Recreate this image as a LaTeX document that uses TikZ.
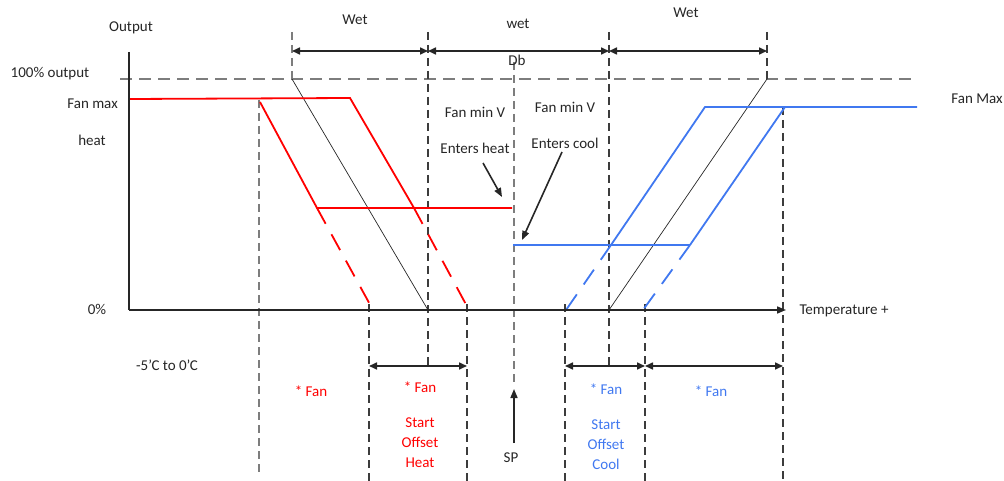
\documentclass[tikz,border=0pt]{standalone}
\usepackage{fontspec}
\setmainfont{Carlito}
\usetikzlibrary{arrows.meta}
\definecolor{myred}{RGB}{255,0,0}
\definecolor{myblue}{RGB}{64,120,240}
\definecolor{dgray}{RGB}{60,60,60}
\definecolor{lgray}{RGB}{125,125,125}
\definecolor{txt}{RGB}{38,38,38}
\begin{document}
\begin{tikzpicture}[x=1pt,y=-1pt,
  lbl/.style={font=\fontsize{15}{20}\selectfont, text=txt, inner sep=0pt, align=center},
  redtxt/.style={lbl, text=myred},
  bluetxt/.style={lbl, text=myblue},
  vdash/.style={draw=dgray, line width=1.1pt, dash pattern=on 8pt off 5pt},
  vdashl/.style={vdash, draw=lgray},
  hdash/.style={draw=lgray, line width=1.1pt, dash pattern=on 12pt off 7pt},
  redl/.style={draw=myred, line width=1.8pt},
  bluel/.style={draw=myblue, line width=1.8pt},
  redd/.style={redl, dash pattern=on 18pt off 12pt},
  blued/.style={bluel, dash pattern=on 18pt off 12pt},
  thinblk/.style={draw=txt, line width=0.7pt},
  axisl/.style={draw=txt, line width=1.6pt},
  dimarrow/.style={draw=txt, line width=1.6pt, {Triangle[length=8pt,width=7pt]}-{Triangle[length=8pt,width=7pt]}},
  pointer/.style={draw=txt, line width=1.6pt, -{Triangle[length=9pt,width=7pt]}},
]
\useasboundingbox (0,0) rectangle (1004,481);

% ---------- key coordinates ----------
\coordinate (O) at (129,310);
\coordinate (Ytop) at (129,52);
\coordinate (Xend) at (786,310);
\coordinate (H1) at (120,79);
\coordinate (H2) at (912,79);

% vertical dashed guides
\coordinate (v1a) at (259,100);  \coordinate (v1b) at (259,473);
\coordinate (v2a) at (292,32);   \coordinate (v2b) at (292,79);
\coordinate (v3a) at (428,32);   \coordinate (v3b) at (428,366);
\coordinate (v4a) at (369,304);  \coordinate (v4b) at (369,481);
\coordinate (v5a) at (467,304);  \coordinate (v5b) at (467,481);
\coordinate (v6a) at (514,62);   \coordinate (v6b) at (514,385);
\coordinate (v7a) at (609,32);   \coordinate (v7b) at (609,366);
\coordinate (v8a) at (565,304);  \coordinate (v8b) at (565,481);
\coordinate (v9a) at (645,304);  \coordinate (v9b) at (645,481);
\coordinate (v10a) at (767,32);  \coordinate (v10b) at (767,79);
\coordinate (v11a) at (783,107); \coordinate (v11b) at (783,481);

% dimension arrow ends (top)
\coordinate (t1) at (292,51); \coordinate (t2) at (428,51);
\coordinate (t3) at (609,51); \coordinate (t4) at (767,51);
% dimension arrow ends (bottom)
\coordinate (b1) at (369,366); \coordinate (b2) at (467,366);
\coordinate (b3) at (565,366); \coordinate (b4) at (645,366);
\coordinate (b5) at (783,366);

% red curve points
\coordinate (r0) at (129,99);
\coordinate (r1) at (350,98);
\coordinate (r2) at (414,208);
\coordinate (r3) at (260,102);
\coordinate (r4) at (317,208);
\coordinate (r5) at (512,208);
\coordinate (r6) at (373,310);
\coordinate (r7) at (469,310);

% blue curve points
\coordinate (c0) at (917,107);
\coordinate (c1) at (705,107);
\coordinate (c2) at (611,245);
\coordinate (c3) at (785,107);
\coordinate (c4) at (690,245);
\coordinate (c5) at (513,245);
\coordinate (c6) at (566,310);
\coordinate (c7) at (643,310);

% thin black lines
\coordinate (k1) at (292,79); \coordinate (k2) at (428,310);
\coordinate (k3) at (609,310); \coordinate (k4) at (767,79);

% pointers
\coordinate (ehA) at (483,163); \coordinate (ehB) at (502,197);
\coordinate (ecA) at (562,152); \coordinate (ecB) at (522,240);
\coordinate (spA) at (514,443); \coordinate (spB) at (514,389);

% ---------- guides ----------
\draw[hdash] (H1) -- (H2);
\draw[vdashl] (v1a) -- (v1b);
\draw[vdashl] (v2a) -- (v2b);
\draw[vdash] (v3a) -- (v3b);
\draw[vdash] (v4a) -- (v4b);
\draw[vdash] (v5a) -- (v5b);
\draw[vdashl] (v6a) -- (v6b);
\draw[vdash] (v7a) -- (v7b);
\draw[vdash] (v8a) -- (v8b);
\draw[vdash] (v9a) -- (v9b);
\draw[vdash] (v10a) -- (v10b);
\draw[vdash] (v11a) -- (v11b);

% ---------- thin black lines ----------
\draw[thinblk] (k1) -- (k2);
\draw[thinblk] (k3) -- (k4);

% ---------- red ----------
\draw[redl] (r0) -- (r1) -- (r2);
\draw[redl] (r3) -- (r4) -- (r5);
\draw[redd] (r4) -- (r6);
\draw[redd] (r2) -- (r7);

% ---------- blue ----------
\draw[bluel] (c0) -- (c1) -- (c2);
\draw[bluel] (c3) -- (c4);
\draw[bluel] (c5) -- (c4);
\draw[blued] (c2) -- (c6);
\draw[blued] (c4) -- (c7);

% ---------- axes ----------
\draw[axisl] (Ytop) -- (O);
\draw[axisl, -{Triangle[length=9pt,width=7pt]}] (O) -- (Xend);

% ---------- dimension arrows ----------
\draw[dimarrow] (t1) -- (t2);
\draw[dimarrow] (t2) -- (t3);
\draw[dimarrow] (t3) -- (t4);
\draw[dimarrow] (b1) -- (b2);
\draw[dimarrow] (b3) -- (b4);
\draw[dimarrow] (b4) -- (b5);

% ---------- pointers ----------
\draw[pointer] (ehA) -- (ehB);
\draw[pointer] (ecA) -- (ecB);
\draw[pointer] (spA) -- (spB);

% ---------- labels ----------
\node[lbl] (output) at (131,28) {Output};
\node[lbl] (p100) at (50,74) {100\% output};
\node[lbl, anchor=east] (fanmax) at (118,104) {Fan max};
\node[lbl] (heat) at (92,140) {heat};
\node[lbl] (zero) at (97,309) {0\%};
\node[lbl] (range) at (167,365) {-5’C to 0’C};
\node[lbl] (wet1) at (355,20) {Wet};
\node[lbl] (wet2) at (518,24) {wet};
\node[lbl] (db) at (517,60) {Db};
\node[lbl] (wet3) at (686,13) {Wet};
\node[lbl] (fmv1) at (475,112) {Fan min V};
\node[lbl] (fmv2) at (565,107) {Fan min V};
\node[lbl] (eheat) at (475,148) {Enters heat};
\node[lbl] (ecool) at (565,143) {Enters cool};
\node[lbl] (fanMax) at (977,99) {Fan Max};
\node[lbl] (temp) at (844,311) {Temperature +};
\node[lbl] (sp) at (511,458) {SP};
\node[redtxt] (rfan1) at (311,391) {* Fan};
\node[redtxt] (rfan2) at (420,387) {* Fan};
\node[redtxt] (rsoh) at (420,443) {Start\\Offset\\Heat};
\node[bluetxt] (bfan1) at (606,389) {* Fan};
\node[bluetxt] (bsoc) at (606,445) {Start\\Offset\\Cool};
\node[bluetxt] (bfan2) at (711,391) {* Fan};
\end{tikzpicture}
\end{document}
